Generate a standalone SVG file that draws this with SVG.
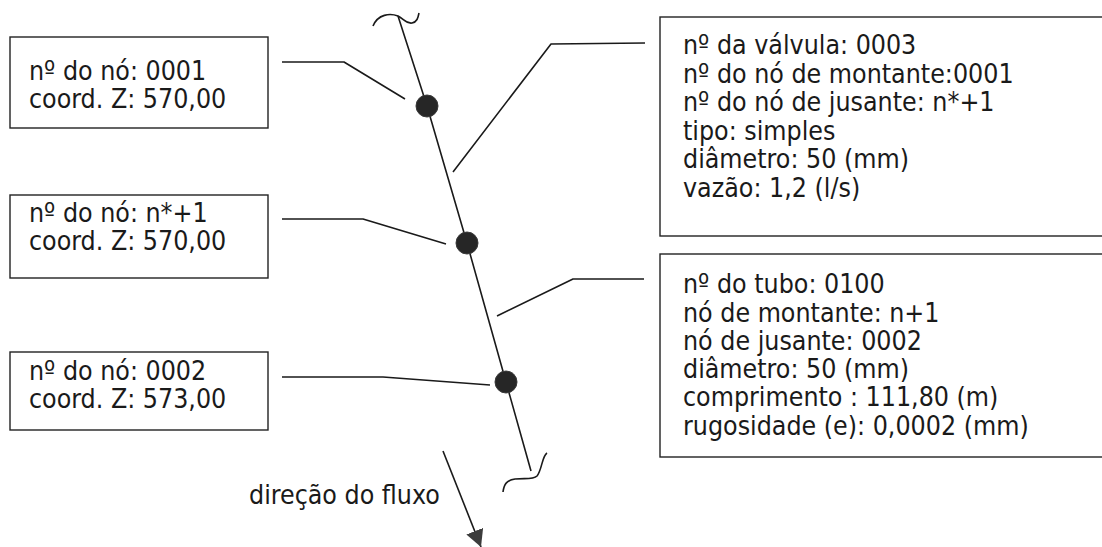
<svg xmlns="http://www.w3.org/2000/svg" width="1102" height="547" viewBox="0 0 1102 547">
  <style>
    .box { fill: #fff; stroke: #222; stroke-width: 1.4; }
    .lbl { font-family: "DejaVu Sans Condensed", "DejaVu Sans", Verdana, sans-serif; font-size: 26.5px; fill: #1a1a1a; }
    .lead { fill: none; stroke: #1a1a1a; stroke-width: 1.6; stroke-linejoin: round; }
    .pipe { fill: none; stroke: #1a1a1a; stroke-width: 1.6; }
    .node { fill: #262626; stroke: #3a3a3a; stroke-width: 1; }
  </style>
  <defs>
    <marker id="head" markerWidth="18" markerHeight="18" refX="17" refY="9" orient="auto" markerUnits="userSpaceOnUse" viewBox="0 0 18 18">
      <path d="M0,0 L17,9 L0,18 Z" fill="#3c3c3c"/>
    </marker>
  </defs>
  <rect width="1102" height="547" fill="#fff"/>

  <!-- pipe run with break marks at both ends -->
  <g id="pipe">
    <polyline class="pipe" points="398,16 427,106 467,243 506,382 531,471"/>
    <path class="pipe" d="M373,26 C378,14 390,13 398,16 C404,19 406,24 412,23 C417,22 418,18 419,13"/>
    <path class="pipe" d="M503,492 C504,484 507,480 515,479 C525,478 533,480 537,476 C542,470 542,456 547,453"/>
  </g>

  <!-- leader lines and flow arrow -->
  <g id="connectors">
    <polyline class="lead" points="282,62 344,62 405,99"/>
    <polyline class="lead" points="282,219 363,219 446,244"/>
    <polyline class="lead" points="282,377 383,377 490,385"/>
    <polyline class="lead" points="453,172 551,44 645,43"/>
    <polyline class="lead" points="497,316 573,279 644,279"/>
    <line class="lead" x1="443" y1="451" x2="481" y2="547" marker-end="url(#head)" stroke-width="1.8"/>
  </g>

  <g id="node-0001">
    <circle class="node" cx="427" cy="106" r="11"/>
    <rect class="box" x="10" y="37" width="258" height="91"/>
    <text class="lbl" x="29" y="80">nº do nó: 0001</text>
    <text class="lbl" x="29" y="108">coord. Z: 570,00</text>
  </g>

  <g id="node-n1">
    <circle class="node" cx="467" cy="243" r="11"/>
    <rect class="box" x="10" y="195" width="258" height="83"/>
    <text class="lbl" x="29" y="222">nº do nó: n*+1</text>
    <text class="lbl" x="29" y="250">coord. Z: 570,00</text>
  </g>

  <g id="node-0002">
    <circle class="node" cx="506" cy="382" r="11"/>
    <rect class="box" x="10" y="352" width="258" height="78"/>
    <text class="lbl" x="29" y="380">nº do nó: 0002</text>
    <text class="lbl" x="29" y="408">coord. Z: 573,00</text>
  </g>

  <g id="valve-0003">
    <rect class="box" x="660" y="17" width="460" height="219"/>
    <text class="lbl" x="683" y="54">nº da válvula: 0003</text>
    <text class="lbl" x="683" y="83">nº do nó de montante:0001</text>
    <text class="lbl" x="683" y="111">nº do nó de jusante: n*+1</text>
    <text class="lbl" x="683" y="140">tipo: simples</text>
    <text class="lbl" x="683" y="168">diâmetro: 50 (mm)</text>
    <text class="lbl" x="683" y="197">vazão: 1,2 (l/s)</text>
  </g>

  <g id="tube-0100">
    <rect class="box" x="660" y="254" width="460" height="203"/>
    <text class="lbl" x="683" y="293">nº do tubo: 0100</text>
    <text class="lbl" x="683" y="322">nó de montante: n+1</text>
    <text class="lbl" x="683" y="350">nó de jusante: 0002</text>
    <text class="lbl" x="683" y="378">diâmetro: 50 (mm)</text>
    <text class="lbl" x="683" y="406">comprimento : 111,80  (m)</text>
    <text class="lbl" x="683" y="435">rugosidade (e): 0,0002 (mm)</text>
  </g>

  <g id="flow-label">
    <text class="lbl" x="249" y="504">direção do fluxo</text>
  </g>
</svg>
